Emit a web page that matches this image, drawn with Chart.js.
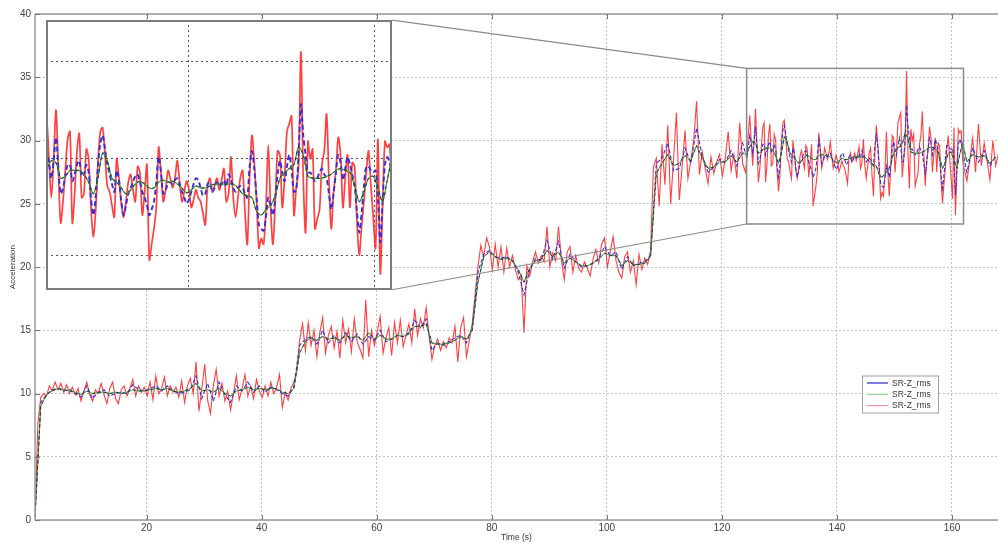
<!DOCTYPE html>
<html>
<head>
<meta charset="utf-8">
<script src="https://cdn.jsdelivr.net/npm/chart.js@4.4.0/dist/chart.umd.min.js"></script>
<style>
  html, body { margin: 0; padding: 0; background: #fff; }
  #wrap { position: relative; width: 998px; height: 543px; overflow: hidden; background: #fff; }
  #main { position: absolute; left: 0; top: 0; }
  #inset { position: absolute; }
</style>
</head>
<body>
<div id="wrap">
  <canvas id="main" width="998" height="543"></canvas>
  <canvas id="inset" width="10" height="10"></canvas>
</div>
<script>
// ---------------- axis ticks and names ----------------
const xTicks = [20, 40, 60, 80, 100, 120, 140, 160];
const yTicks = [0, 5, 10, 15, 20, 25, 30, 35, 40];
const insetXTicks = [140, 160];
const insetYTicks = [25, 30, 35];
const seriesNames = ['SR-Z_rms', 'SR-Z_rms', 'SR-Z_rms'];
const xTitle = 'Time (s)';
const yTitle = 'Acceleration';

// ---------------- sampling of the recordings (s) ----------------
const coarseStart = 0.6;     // start of record
const fineStart = 124.35;    // denser sampling through the magnified window
const tailStart = 162.6;
const redStep = 0.5, fineStep = 0.25, slowStep = 1, greenFineStep = 0.5;

// ---------------- red trace ----------------
const redCoarse = [
  0.3, 7.6, 9.7, 10.0, 9.8, 10.6, 10.2, 10.9, 10.3, 10.8,
  10.1, 10.7, 10.0, 10.5, 9.9, 10.4, 9.4, 10.2, 10.9, 9.9,
  9.4, 10.3, 10.0, 10.8, 9.9, 9.2, 10.4, 10.9, 9.6, 9.2,
  10.3, 10.6, 9.8, 10.4, 11.1, 9.8, 10.6, 10.1, 10.5, 9.8,
  10.9, 9.5, 11.4, 10.0, 10.4, 11.3, 9.8, 10.6, 10.1, 10.5,
  9.7, 11.0, 9.3, 10.6, 11.2, 10.0, 12.5, 8.6, 10.4, 12.3,
  9.5, 8.4, 10.6, 11.9, 9.8, 10.8, 9.4, 10.2, 8.7, 10.0,
  11.4, 9.5, 10.4, 11.5, 9.8, 10.6, 9.6, 11.1, 10.2, 9.7,
  10.6, 9.8, 10.9, 10.0, 10.5, 11.5, 8.9, 10.1, 9.5, 10.4,
  10.9, 11.8, 14.2, 15.5, 13.4, 15.6, 13.8, 15.0, 12.9, 14.8,
  16.0, 13.2, 14.6, 15.3, 13.6, 14.9, 12.8, 15.8, 14.0, 15.1,
  13.3, 15.9, 14.1, 13.5, 12.8, 17.4, 12.9, 15.0, 13.8, 14.9,
  16.1, 13.2, 14.4, 15.2, 13.0, 15.6, 14.0, 15.8, 13.7, 14.6,
  15.5, 14.0, 16.7, 14.6, 15.9, 15.2, 16.8, 14.6, 12.7, 13.8,
  14.3, 13.4, 14.1, 13.6, 14.4, 14.0, 15.3, 12.5, 15.2, 16.0,
  12.9, 14.2, 15.5, 17.8, 20.0, 21.7, 20.8, 22.3, 21.6, 19.8,
  21.8, 20.0, 21.6, 19.6, 21.5, 20.0, 20.9, 19.8, 19.0, 19.4,
  14.8, 20.1, 19.3, 20.4, 21.2, 20.3, 20.9, 20.4, 23.2, 20.0,
  21.1, 20.5, 23.2, 20.6, 19.0, 21.2, 21.6, 19.6, 20.9, 19.9,
  19.6, 20.4, 19.9, 19.3, 20.6, 21.4, 20.3, 21.8, 22.3, 20.0,
  21.2, 22.4, 20.5, 19.6, 19.1, 20.8, 21.2, 19.6, 20.5, 18.6,
  21.0, 19.8, 20.7, 20.2, 21.3, 27.9, 28.6, 24.8, 29.7, 26.5,
  31.2, 25.0, 28.5, 32.2, 25.3, 28.0, 30.8, 27.0, 28.4, 30.0,
  33.1, 27.3, 29.1, 27.8, 26.6, 28.7, 27.4, 28.3, 28.9, 27.2,
  28.6, 30.7, 27.6, 28.9, 27.0, 31.4, 28.2, 27.5
];
const redFine = [
  28.5, 30.5, 32.0, 30.0, 28.0, 30.0, 32.5, 29.5, 26.7, 27.8,
  29.4, 31.0, 31.4, 26.7, 28.2, 30.4, 31.3, 28.0, 28.2, 30.5,
  30.0, 27.5, 26.0, 27.3, 29.8, 31.4, 31.6, 30.2, 28.6, 28.3,
  27.6, 27.0, 30.0, 29.0, 27.7, 27.0, 27.8, 28.8, 29.2, 28.4,
  27.8, 29.6, 29.3, 27.1, 28.3, 29.7, 24.8, 25.6, 26.4, 27.5,
  30.6, 29.3, 27.8, 28.4, 29.4, 29.0, 28.5, 29.0, 29.9, 28.8,
  27.8, 28.3, 28.85, 28.4, 27.5, 27.9, 28.4, 28.0, 27.8, 27.2,
  26.6, 28.6, 29.0, 28.3, 28.6, 29.0, 28.4, 28.9, 29.5, 27.8,
  28.2, 30.1, 28.0, 27.0, 28.0, 29.0, 29.4, 27.3, 25.6, 29.0,
  31.2, 29.8, 27.8, 25.4, 25.9, 25.6, 27.5, 30.7, 27.5, 25.6,
  27.8, 30.4, 30.2, 27.5, 29.0, 31.4, 31.8, 32.2, 27.1, 28.5,
  29.6, 35.5, 29.0, 26.2, 30.9, 30.0, 30.5, 26.4, 26.9, 27.4,
  29.7, 30.4, 32.3, 29.0, 26.4, 28.3, 29.4, 31.1, 30.2, 27.5,
  29.0, 30.2, 27.5, 29.8, 29.6, 26.8, 25.05, 26.5, 27.8, 29.3,
  30.4, 28.6, 27.0, 25.4, 31.0, 24.1, 27.5, 30.9, 30.6, 30.75,
  28.5, 27.8
];
const redTail = [26.8, 28.5, 30.2, 27.5, 31.3, 28.0, 29.8, 28.4, 26.9, 30.0, 28.0, 29.0];

// ---------------- blue trace ----------------
const blueCoarse = [
  0.2, 9.3, 9.9, 10.3, 10.4, 10.2, 10.3, 10.0, 9.7, 10.6,
  9.6, 10.1, 10.3, 9.8, 10.0, 10.1, 10.0, 10.7, 10.3, 10.2,
  10.4, 10.6, 10.2, 10.6, 10.2, 10.0, 10.1, 10.3, 11.4, 9.6,
  10.8, 9.4, 10.9, 9.9, 9.3, 10.6, 10.2, 10.9, 10.1, 10.6,
  10.1, 10.5, 10.3, 10.0, 9.8, 10.5, 13.8, 14.3, 14.5, 13.9,
  15.0, 14.0, 14.6, 14.0, 14.8, 14.1, 14.7, 13.9, 14.5, 14.2,
  15.0, 14.1, 14.3, 14.6, 14.5, 14.7, 15.8, 15.2, 15.9, 13.4,
  14.0, 13.8, 14.1, 14.4, 14.6, 14.0, 15.2, 19.6, 21.0, 21.3,
  20.8, 20.7, 20.8, 20.5, 19.6, 17.8, 19.8, 20.7, 20.5, 22.1,
  20.6, 22.0, 19.9, 21.0, 20.4, 20.0, 20.1, 20.3, 20.7, 21.6,
  20.9, 21.2, 19.8, 20.8, 20.1, 20.3, 20.4, 20.9, 28.2, 28.6,
  29.8, 27.6, 27.8, 29.4, 28.2, 31.0, 28.7, 27.5, 27.9, 28.5,
  28.3, 29.2, 28.0, 29.8
];
const blueFine = [
  28.6, 29.5, 30.4, 29.8, 29.0, 29.9, 31.1, 29.6, 28.2, 28.5,
  29.1, 29.7, 29.7, 28.85, 29.2, 29.7, 29.9, 29.1, 29.2, 29.7,
  29.3, 28.0, 27.1, 28.0, 29.6, 30.8, 31.2, 30.5, 29.7, 29.2,
  28.7, 28.3, 29.4, 28.9, 27.8, 27.1, 27.6, 28.2, 28.5, 28.8,
  29.1, 29.2, 28.8, 28.3, 28.0, 27.6, 27.1, 27.4, 27.8, 28.8,
  30.1, 29.3, 28.2, 28.4, 28.7, 28.8, 28.7, 28.9, 29.0, 28.7,
  28.3, 28.0, 27.7, 27.9, 28.3, 28.7, 29.0, 28.9, 28.5, 28.1,
  28.2, 28.7, 28.8, 28.3, 28.5, 28.8, 28.6, 28.7, 28.9, 28.6,
  29.2, 28.9, 28.5, 28.3, 28.5, 28.6, 28.5, 28.2, 28.0, 29.6,
  30.4, 29.5, 28.0, 26.6, 26.4, 26.3, 27.0, 28.0, 27.6, 27.1,
  28.0, 29.2, 29.9, 29.3, 28.85, 29.6, 30.2, 29.4, 28.3, 28.4,
  30.3, 32.8, 31.2, 30.2, 29.3, 29.3, 29.1, 28.85, 29.0, 29.3,
  29.5, 29.2, 29.0, 28.2, 27.4, 28.2, 29.3, 30.2, 29.8, 28.9,
  29.5, 30.1, 29.7, 29.2, 28.6, 27.3, 26.2, 27.2, 28.6, 29.6,
  29.6, 29.4, 29.3, 29.4, 28.0, 25.7, 27.8, 29.7, 30.1, 29.8,
  29.3, 28.6
];
const blueTail = [27.5, 29.4, 28.3, 29.2, 28.0, 28.8];

// ---------------- green trace ----------------
const greenCoarse = [
  0.2, 9.0, 9.9, 10.2, 10.4, 10.3, 10.2, 10.1, 9.9, 10.2,
  10.0, 10.1, 10.1, 10.0, 10.1, 10.0, 10.1, 10.3, 10.2, 10.2,
  10.3, 10.4, 10.3, 10.4, 10.2, 10.1, 10.2, 10.4, 10.8, 10.2,
  10.3, 10.1, 10.4, 10.0, 9.8, 10.2, 10.3, 10.5, 10.3, 10.4,
  10.3, 10.4, 10.4, 10.1, 10.0, 10.4, 13.2, 14.1, 14.4, 14.2,
  14.5, 14.3, 14.4, 14.2, 14.6, 14.4, 14.5, 14.2, 14.8, 14.3,
  14.6, 14.3, 14.3, 14.6, 14.5, 14.8, 15.3, 15.3, 15.5, 14.0,
  13.9, 13.9, 14.0, 14.2, 14.5, 14.3, 15.0, 18.8, 20.8, 21.2,
  20.8, 20.6, 20.7, 20.5, 19.8, 18.8, 19.9, 20.5, 20.6, 21.3,
  20.8, 21.2, 20.3, 20.7, 20.4, 20.1, 20.1, 20.3, 20.6, 21.1,
  20.9, 20.9, 20.1, 20.5, 20.2, 20.2, 20.3, 20.8, 27.4, 28.2,
  28.9, 28.0, 28.2, 28.8, 28.4, 29.6, 28.6, 27.8, 27.9, 28.3,
  28.3, 28.8, 28.3, 29.0
];
const greenFine = [
  29.0, 29.5, 29.9, 29.8, 29.0, 29.1, 29.4, 29.4, 29.4, 29.2,
  28.8, 28.2, 29.0, 30.3, 29.9, 29.0, 28.8, 28.5, 28.2, 28.4,
  28.7, 28.85, 28.7, 28.5, 28.5, 28.8, 28.9, 28.8, 28.85, 28.7,
  28.5, 28.25, 28.4, 28.6, 28.5, 28.5, 28.6, 28.7, 28.7, 28.7,
  28.7, 28.7, 28.5, 28.2, 28.1, 28.0, 27.3, 27.1, 27.4, 27.6,
  28.1, 29.0, 29.3, 29.5, 29.7, 30.6, 30.2, 29.1, 29.0, 29.0,
  29.0, 29.1, 29.2, 29.4, 29.5, 29.4, 29.3, 28.6, 27.8, 28.3,
  29.0, 29.1, 28.5, 27.8, 28.9, 29.8
];
const greenTail = [28.3, 28.9, 28.7, 28.8, 28.2, 28.7];

// ---------------- layout of the magnified view (main-axis units) ----------------
const zoomWindow = { x0: 124.3, x1: 162.0, y0: 23.4, y1: 35.7 };
const insetFrame = { x0: 2.49, x1: 62.66, y0: 18.2, y1: 39.52 };
const insetRange = { x0: 124.78, x1: 161.86, y0: 23.25, y1: 37.14 };

// turn [start, step, values] runs into {x, y} points
function buildSeries(runs) {
  const pts = [];
  for (const [start, step, values] of runs) {
    values.forEach((v, i) => pts.push({ x: Math.round((start + i * step) * 100) / 100, y: v }));
  }
  return pts;
}

const redPoints = buildSeries([[coarseStart, redStep, redCoarse], [fineStart, fineStep, redFine], [tailStart, redStep, redTail]]);
const bluePoints = buildSeries([[coarseStart, slowStep, blueCoarse], [fineStart, fineStep, blueFine], [tailStart, slowStep, blueTail]]);
const greenPoints = buildSeries([[coarseStart, slowStep, greenCoarse], [fineStart, greenFineStep, greenFine], [tailStart, slowStep, greenTail]]);

const FONT = "'Liberation Sans', Arial, Helvetica, sans-serif";
const COLORS = { red: 'rgba(255,38,38,0.88)', blue: '#3a2bd8', green: '#3f9f3f', trace: 'rgba(25,25,25,0.85)' };

function lineDatasets(w) {
  return [
    { label: seriesNames[0], data: bluePoints, borderColor: COLORS.blue, borderWidth: w.blue, borderDash: w.blueDash, order: 3 },
    { label: seriesNames[1], data: greenPoints, borderColor: COLORS.green, borderWidth: w.green, order: 2 },
    { label: '', data: greenPoints, borderColor: COLORS.trace, borderWidth: w.trace, borderDash: [3, 3], order: 1 },
    { label: seriesNames[2], data: redPoints, borderColor: COLORS.red, borderWidth: w.red, order: 4 }
  ].map(d => Object.assign({ pointRadius: 0, fill: false, tension: w.tension }, d));
}

// frame, zoom marker, connector lines and legend drawn over the plot
const mainDecor = {
  id: 'mainDecor',
  afterDatasetsDraw(chart) {
    const { ctx, chartArea: a, scales: { x, y } } = chart;
    ctx.save();
    // axes box with inward ticks
    ctx.strokeStyle = '#9a9a9a';
    ctx.lineWidth = 1.5;
    ctx.beginPath();
    ctx.moveTo(a.left, a.top); ctx.lineTo(a.right + 2, a.top);
    ctx.moveTo(a.left, a.top); ctx.lineTo(a.left, a.bottom);
    ctx.moveTo(a.left, a.bottom); ctx.lineTo(a.right + 2, a.bottom);
    ctx.stroke();
    ctx.strokeStyle = '#777';
    ctx.lineWidth = 1;
    ctx.beginPath();
    xTicks.forEach(v => {
      const px = Math.round(x.getPixelForValue(v)) + 0.5;
      ctx.moveTo(px, a.bottom); ctx.lineTo(px, a.bottom - 5);
      ctx.moveTo(px, a.top); ctx.lineTo(px, a.top + 5);
    });
    yTicks.forEach(v => {
      const py = Math.round(y.getPixelForValue(v)) + 0.5;
      ctx.moveTo(a.left, py); ctx.lineTo(a.left + 5, py);
    });
    ctx.stroke();

    // zoom window marker
    const zl = x.getPixelForValue(zoomWindow.x0), zr = x.getPixelForValue(zoomWindow.x1);
    const zt = y.getPixelForValue(zoomWindow.y1), zb = y.getPixelForValue(zoomWindow.y0);
    ctx.strokeStyle = '#8a8a8a';
    ctx.lineWidth = 1.5;
    ctx.strokeRect(zl, zt, zr - zl, zb - zt);

    // connectors to the magnified view
    const ir = x.getPixelForValue(insetFrame.x1);
    const it = y.getPixelForValue(insetFrame.y1), ib = y.getPixelForValue(insetFrame.y0);
    ctx.lineWidth = 1.2;
    ctx.beginPath();
    ctx.moveTo(ir, it); ctx.lineTo(zl, zt);
    ctx.moveTo(ir, ib); ctx.lineTo(zl, zb);
    ctx.stroke();

    // legend
    const lg = chart.options.plugins.mainDecor.legend;
    const bx = a.left + lg.left, by = a.top + lg.top;
    ctx.fillStyle = '#fff';
    ctx.fillRect(bx, by, lg.width, lg.height);
    ctx.strokeStyle = '#a0a0a0';
    ctx.lineWidth = 1;
    ctx.strokeRect(bx + 0.5, by + 0.5, lg.width, lg.height);
    ctx.font = lg.fontSize + 'px ' + FONT;
    ctx.textBaseline = 'middle';
    ctx.textAlign = 'left';
    seriesNames.forEach((name, i) => {
      const ry = by + lg.firstRow + i * lg.rowGap;
      ctx.strokeStyle = lg.colors[i];
      ctx.lineWidth = 1.2;
      ctx.beginPath();
      ctx.moveTo(bx + lg.lineFrom, ry); ctx.lineTo(bx + lg.lineTo, ry);
      ctx.stroke();
      ctx.fillStyle = '#333';
      ctx.fillText(name, bx + lg.textAt, ry + 0.5);
    });
    ctx.restore();
  }
};

const mainChart = new Chart(document.getElementById('main'), {
  type: 'line',
  data: { datasets: lineDatasets({ red: 1.1, blue: 1.1, blueDash: [4, 2], green: 1, trace: 0.9, tension: 0 }) },
  options: {
    responsive: false, animation: false, devicePixelRatio: 1, parsing: false, normalized: true,
    layout: { padding: { top: 14, right: 0, left: 0, bottom: 0 } },
    plugins: {
      legend: { display: false }, tooltip: { enabled: false },
      mainDecor: {
        legend: { left: 827, top: 361.5, width: 76, height: 37, firstRow: 7.5, rowGap: 11.3,
                  lineFrom: 5, lineTo: 26, textAt: 30, fontSize: 8.5,
                  colors: ['#2b2bd0', '#8fd08f', '#ff90a8'] }
      }
    },
    scales: {
      x: {
        type: 'linear', min: coarseStart, max: 168,
        afterBuildTicks: s => { s.ticks = xTicks.map(v => ({ value: v })); },
        afterFit: s => { s.height = 23; },
        grid: { color: '#c2c2c2', lineWidth: 1, drawTicks: false },
        border: { display: false, dash: [2, 2] },
        ticks: { padding: 2, color: '#404040', font: { family: FONT, size: 10 }, maxRotation: 0 },
        title: { display: true, text: xTitle, color: '#333', font: { family: FONT, size: 8.5 }, padding: { top: 0, bottom: 0 } }
      },
      y: {
        type: 'linear', min: 0, max: 40,
        afterBuildTicks: s => { s.ticks = yTicks.map(v => ({ value: v })); },
        afterFit: s => { s.width = 35; },
        grid: { color: '#c2c2c2', lineWidth: 1, drawTicks: false },
        border: { display: false, dash: [2, 2] },
        ticks: { padding: 4, color: '#404040', font: { family: FONT, size: 10 } },
        title: { display: true, text: yTitle, color: '#333', font: { family: FONT, size: 8 }, padding: { top: 8, bottom: 0 } }
      }
    }
  },
  plugins: [mainDecor]
});

// ---------------- magnified view ----------------
const xs = mainChart.scales.x, ys = mainChart.scales.y;
const iL = Math.round(xs.getPixelForValue(insetFrame.x0));
const iR = Math.round(xs.getPixelForValue(insetFrame.x1));
const iT = Math.round(ys.getPixelForValue(insetFrame.y1));
const iB = Math.round(ys.getPixelForValue(insetFrame.y0));
const insetCanvas = document.getElementById('inset');
insetCanvas.width = iR - iL;
insetCanvas.height = iB - iT;
insetCanvas.style.left = iL + 'px';
insetCanvas.style.top = iT + 'px';

const insetFrameDraw = {
  id: 'insetFrameDraw',
  beforeDraw(chart) {
    const { ctx, width, height } = chart;
    ctx.save(); ctx.fillStyle = '#fff'; ctx.fillRect(0, 0, width, height); ctx.restore();
  },
  afterDraw(chart) {
    const { ctx, width, height } = chart;
    ctx.save();
    ctx.strokeStyle = '#7c7c7c';
    ctx.lineWidth = 2;
    ctx.strokeRect(1, 1, width - 2, height - 2);
    ctx.restore();
  }
};

new Chart(insetCanvas, {
  type: 'line',
  data: { datasets: lineDatasets({ red: 1.7, blue: 1.9, blueDash: [5, 3], green: 1.2, trace: 1, tension: 0.3 }) },
  options: {
    responsive: false, animation: false, devicePixelRatio: 1, parsing: false,
    layout: { padding: 0 },
    plugins: { legend: { display: false }, tooltip: { enabled: false } },
    scales: {
      x: {
        type: 'linear', min: insetRange.x0, max: insetRange.x1,
        afterBuildTicks: s => { s.ticks = insetXTicks.map(v => ({ value: v })); },
        afterFit: s => { s.height = 0; },
        grid: { color: '#555', lineWidth: 1, drawTicks: false },
        border: { display: false, dash: [2, 3] },
        ticks: { display: false }
      },
      y: {
        type: 'linear', min: insetRange.y0, max: insetRange.y1,
        afterBuildTicks: s => { s.ticks = insetYTicks.map(v => ({ value: v })); },
        afterFit: s => { s.width = 0; },
        grid: { color: '#555', lineWidth: 1, drawTicks: false },
        border: { display: false, dash: [2, 3] },
        ticks: { display: false }
      }
    }
  },
  plugins: [insetFrameDraw]
});
</script>
</body>
</html>
